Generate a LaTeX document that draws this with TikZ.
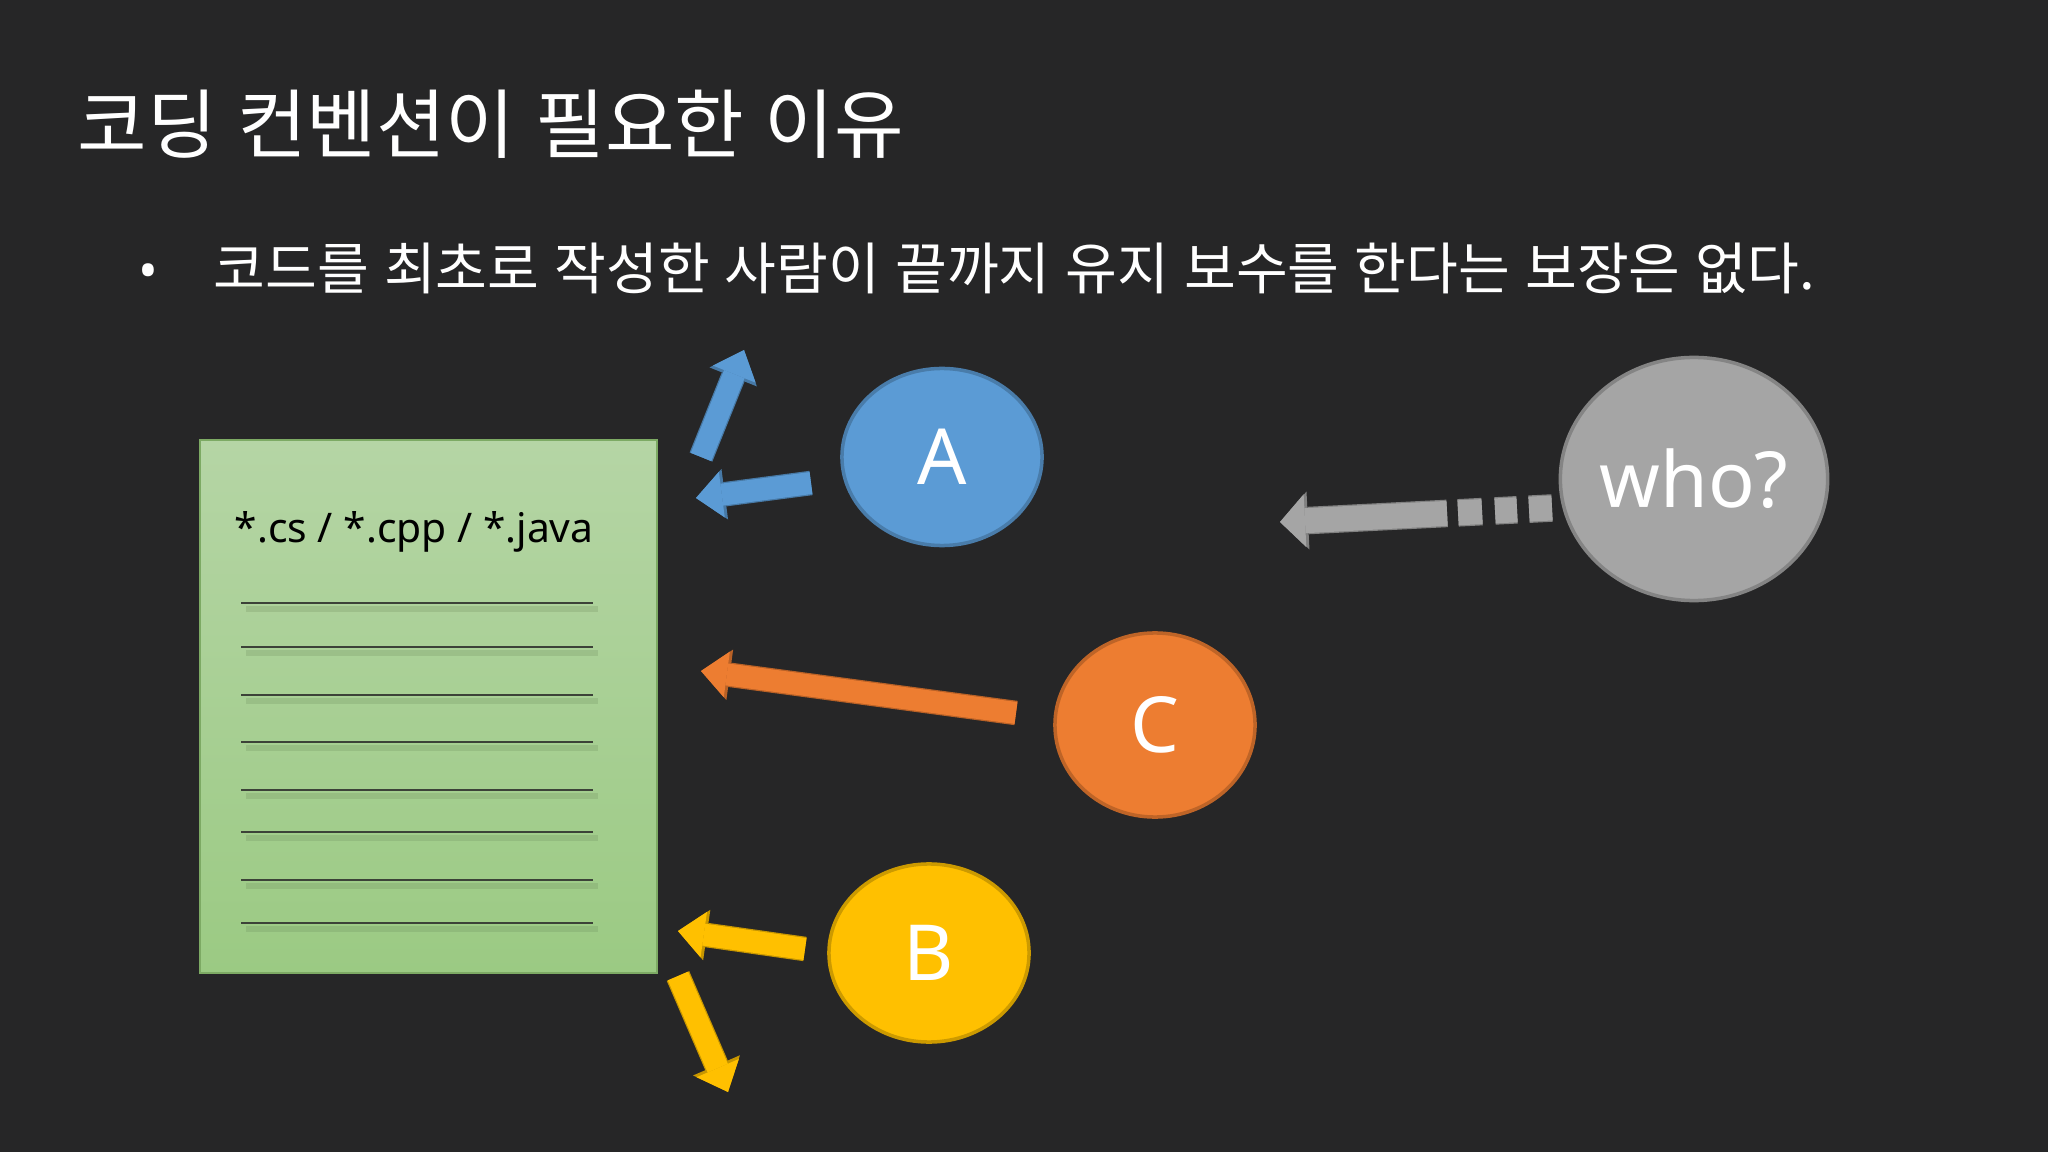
\documentclass[tikz,border=0pt]{standalone}
\usepackage{fontspec}
\setmainfont{Noto Sans}
\newfontfamily\kofont[WordSpace=1.72]{Noto Sans CJK KR}
\newfontfamily\kotitlefont[WordSpace=1.2]{Noto Sans CJK KR}
\usetikzlibrary{shapes.geometric,arrows.meta}

\definecolor{bgcolor}{RGB}{38,38,39}
\definecolor{acolor}{RGB}{91,155,213}
\definecolor{bcolor}{RGB}{255,192,0}
\definecolor{ccolor}{RGB}{237,125,49}
\definecolor{whocolor}{RGB}{165,165,165}
\definecolor{doctop}{RGB}{181,213,165}
\definecolor{docbot}{RGB}{155,202,131}
\definecolor{docedge}{RGB}{125,170,100}
\definecolor{linecolor}{RGB}{60,66,56}

\tikzset{
  person/.style={ellipse, draw=#1!80!black, fill=#1, line width=1pt, text=white,
    font=\fontsize{22}{26}\selectfont, inner sep=0pt},
  blockarrow/.style={
    preaction={draw=#1!78!black, line width=0.245cm,
      -{Triangle[length=0.29cm, width=0.51cm, line width=0pt]}},
    draw=#1, line width=0.22cm,
    -{Triangle[length=0.26cm, width=0.46cm, line width=0pt]}},
  whodash/.style={dash pattern=on 0.23cm off 0.12cm on 0.22cm off 0.13cm on 0.24cm off 0.11cm on 6cm},
  dashedarrow/.style={
    preaction={draw=#1!78!black, line width=0.275cm, whodash,
      -{Triangle[length=0.28cm, width=0.58cm, line width=0pt]}},
    draw=#1, line width=0.25cm, whodash,
    -{Triangle[length=0.25cm, width=0.53cm, line width=0pt]}},
  codeline/.style={draw=linecolor, line width=0.7pt},
  lineshadow/.style={draw=docbot!65!black, line width=1.8pt, opacity=0.22},
}

\begin{document}
\begin{tikzpicture}[x=0.01cm, y=-0.01cm]
  % fond
  \fill[bgcolor] (0,0) rectangle (2048,1152);
  \useasboundingbox (0,0) rectangle (2048,1152);

  % titre et puce
  \node[anchor=base west, inner sep=0pt, text=white, font=\kotitlefont\fontsize{21.5}{26}\selectfont]
    (title) at (77,153) {코딩 컨벤션이 필요한 이유};
  \node[anchor=base, inner sep=0pt, text=white, font=\fontsize{15}{18}\selectfont]
    (dot) at (148,290) {•};
  \node[anchor=base west, inner sep=0pt, text=white, font=\kofont\fontsize{16}{19}\selectfont]
    (point) at (213,290) {코드를 최초로 작성한 사람이 끝까지 유지 보수를 한다는 보장은 없다.};

  % fichier source
  \shade[top color=doctop, bottom color=docbot, draw=docedge, line width=0.8pt]
    (200,440) rectangle (657,973);
  \node[anchor=base west, inner sep=0pt, font=\fontsize{11.6}{14}\selectfont]
    (ext) at (234,543) {*.cs / *.cpp / *.java};
  \foreach \ly in {603,647,695,742,790,832,880,923} {
    \draw[lineshadow] (246,\ly+6) -- (598,\ly+6);
    \draw[codeline] (241,\ly) -- (593,\ly);
  }

  % personnes
  \node[person=acolor, minimum width=2.0cm, minimum height=1.77cm] (A) at (942,457) {A};
  \node[person=ccolor, minimum width=2.0cm, minimum height=1.84cm] (C) at (1155,725) {C};
  \node[person=bcolor, minimum width=2.0cm, minimum height=1.78cm] (B) at (929,953) {B};
  \node[person=whocolor, minimum width=2.54cm, minimum height=2.43cm] (who) at (1694,479) {who?};

  % fleches
  \coordinate (a1s) at (701,457);  \coordinate (a1e) at (744,350);
  \coordinate (a2s) at (811,483);  \coordinate (a2e) at (696,498);
  \coordinate (c1s) at (1016,713); \coordinate (c1e) at (701,671);
  \coordinate (b1s) at (805,949);  \coordinate (b1e) at (678,931);
  \coordinate (b2s) at (678,976);  \coordinate (b2e) at (728,1092);
  \coordinate (w1s) at (1552,508); \coordinate (w1e) at (1280,522);

  \draw[blockarrow=acolor] (a1s) -- (a1e);
  \draw[blockarrow=acolor] (a2s) -- (a2e);
  \draw[blockarrow=ccolor] (c1s) -- (c1e);
  \draw[blockarrow=bcolor] (b1s) -- (b1e);
  \draw[blockarrow=bcolor] (b2s) -- (b2e);
  \draw[dashedarrow=whocolor] (w1s) -- (w1e);
\end{tikzpicture}
\end{document}
